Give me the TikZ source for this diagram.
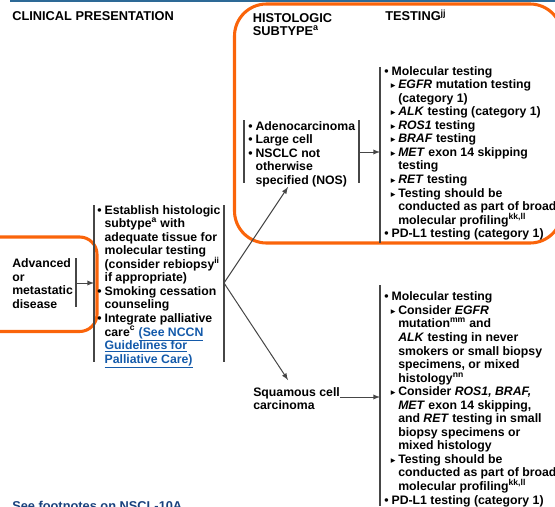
\documentclass[tikz,border=0pt]{standalone}
\usepackage{fontspec}
\setmainfont{Liberation Sans}
\newfontfamily\symfont{DejaVu Sans}
\usepackage{tikz}
\usetikzlibrary{arrows}
\definecolor{nccnorange}{RGB}{250,100,10}
\definecolor{nccnblue}{RGB}{45,105,150}
\definecolor{linkblue}{RGB}{20,90,170}
\definecolor{footblue}{RGB}{25,65,125}
\definecolor{bargray}{RGB}{70,70,70}
\newcommand{\bodyfont}{\fontsize{9.2}{10.16}\selectfont\bfseries\lineskiplimit=-10pt\relax}
\newcommand{\headfont}{\fontsize{9.6}{9.4}\selectfont\bfseries\lineskiplimit=-10pt\relax}
\tikzstyle{txt}=[anchor=north west, inner sep=0pt, align=left
,font=\bodyfont
]
\tikzstyle{head}=[anchor=base west, inner sep=0pt
,font=\headfont
]
\tikzstyle{bar} = [draw=bargray,line width=0.9pt]
\tikzstyle{edge} = [draw=bargray,line width=0.75pt,->,>=latex]
\tikzstyle{frame} = [draw=nccnorange,line width=2.3pt]
% bullets and sub-bullets
\newcommand{\bul}{\makebox[5.5pt][l]{\textbullet}}
\newcommand{\ind}{\hspace*{5.5pt}}
\newcommand{\tri}{\hspace*{5pt}\makebox[5.5pt][l]{{\symfont\fontsize{7}{7}\selectfont ▸}}}
\newcommand{\indd}{\hspace*{10.5pt}}
\newcommand{\lnk}[1]{{\color{linkblue}\underline{#1}}}

\begin{document}
\begin{tikzpicture}[x=0.75pt,y=-0.75pt]
    \useasboundingbox (0,0) rectangle (555,506);
    % Top rule and the two orange frames
    \draw[draw=nccnblue,line width=2pt] (10,1) -- (555,1);
    \draw[frame,rounded corners=24pt] (234.5,4) rectangle (562,243);
    \draw[frame,rounded corners=13pt] (-20,237) rectangle (97,331.5);

    % Column heads
    \node[head] (clin) at (12,21) {CLINICAL PRESENTATION};
    \node[txt,font=\headfont] (hist) at (252.5,13.3) {HISTOLOGIC\\SUBTYPE\textsuperscript{a}};
    \node[head] (testing) at (385,21) {TESTING\textsuperscript{jj}};

    % Text blocks
    \node[txt] (adv) at (12,258.3) {Advanced\\or\\metastatic\\disease};
    \node[txt] (work) at (97,205) {\bul Establish histologic\\
        \ind subtype\textsuperscript{a} with\\
        \ind adequate tissue for\\
        \ind molecular testing\\
        \ind (consider rebiopsy\textsuperscript{ii}\\
        \ind if appropriate)\\
        \bul Smoking cessation\\
        \ind counseling\\
        \bul Integrate palliative\\
        \ind care\textsuperscript{c} \lnk{(See NCCN}\\
        \ind \lnk{Guidelines for}\\
        \ind \lnk{Palliative Care)}};
    \node[txt] (adeno) at (248,121) {\bul Adenocarcinoma\\
        \bul Large cell\\
        \bul NSCLC not\\
        \ind otherwise\\
        \ind specified (NOS)};
    \node[txt] (squam) at (253,387) {Squamous cell\\carcinoma};
    \node[txt] (testA) at (384,66) {\bul Molecular testing\\
        \tri \textit{EGFR} mutation testing\\
        \indd (category 1)\\
        \tri \textit{ALK} testing (category 1)\\
        \tri \textit{ROS1} testing\\
        \tri \textit{BRAF} testing\\
        \tri \textit{MET} exon 14 skipping\\
        \indd testing\\
        \tri \textit{RET} testing\\
        \tri Testing should be\\
        \indd conducted as part of broad\\
        \indd molecular profiling\textsuperscript{kk,ll}\\
        \bul PD-L1 testing (category 1)};
    \node[txt] (testB) at (384,291.7) {\bul Molecular testing\\
        \tri Consider \textit{EGFR}\\
        \indd mutation\textsuperscript{mm} and\\
        \indd \textit{ALK} testing in never\\
        \indd smokers or small biopsy\\
        \indd specimens, or mixed\\
        \indd histology\textsuperscript{nn}\\
        \tri Consider \textit{ROS1, BRAF,}\\
        \indd \textit{MET} exon 14 skipping,\\
        \indd and \textit{RET} testing in small\\
        \indd biopsy specimens or\\
        \indd mixed histology\\
        \tri Testing should be\\
        \indd conducted as part of broad\\
        \indd molecular profiling\textsuperscript{kk,ll}\\
        \bul PD-L1 testing (category 1)};
    \node[head,text=footblue] (foot) at (12,510.5) {See footnotes on NSCL-10A};

    % Bracket bars
    \foreach \x/\ya/\yb in {76/258/307, 94/205/362, 224/205/362, 244/120/183, 359/120/183, 380/67/243, 380/285/506}
        \path[bar] (\x,\ya) -- (\x,\yb);

    % Connector ends
    \coordinate (advOut) at (76,283);
    \coordinate (workIn) at (94,283);
    \coordinate (workOut) at (224,283);
    \coordinate (adenoIn) at (288,187);
    \coordinate (squamIn) at (288,380);
    \coordinate (adenoOut) at (359,152);
    \coordinate (testAIn) at (380,152);
    \coordinate (squamOut) at (340,397);
    \coordinate (testBIn) at (380,397);

    % Connect the blocks
    \foreach \source/ \dest in {advOut/workIn, workOut/adenoIn, workOut/squamIn, adenoOut/testAIn, squamOut/testBIn}
        \path[edge] (\source) -- (\dest);
\end{tikzpicture}
\end{document}
